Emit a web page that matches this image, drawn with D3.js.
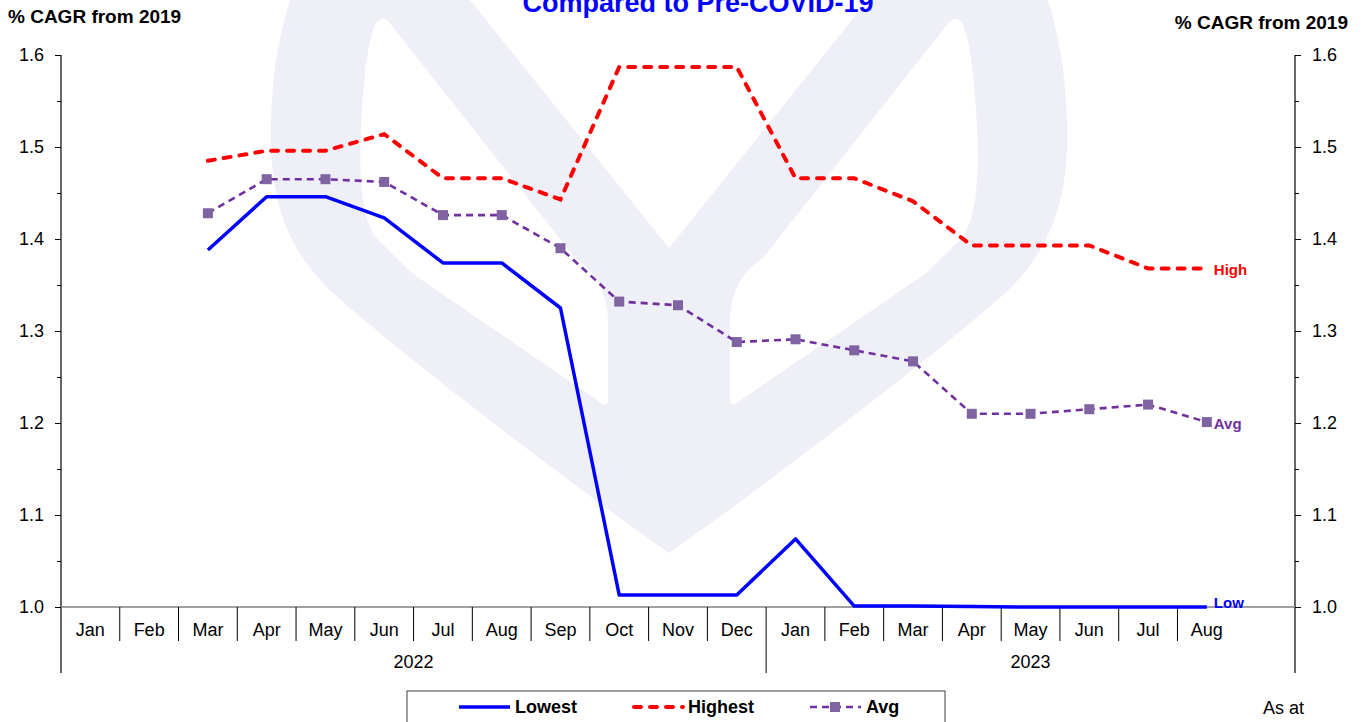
<!DOCTYPE html>
<html>
<head>
<meta charset="utf-8">
<script src="https://cdn.jsdelivr.net/npm/d3@7"></script>
<style>
body { margin: 0; background: #fff; }
svg { display: block; font-family: "Liberation Sans", Arial, sans-serif; }
</style>
</head>
<body>
<div id="chart"></div>
<script>
// data
const months = ["Jan", "Feb", "Mar", "Apr", "May", "Jun", "Jul", "Aug", "Sep", "Oct", "Nov", "Dec",
	"Jan", "Feb", "Mar", "Apr", "May", "Jun", "Jul", "Aug"];
const years = [{ label: "2022", span: 12 }, { label: "2023", span: 9 }];
const lowest = [null, null, 1.388, 1.446, 1.446, 1.423, 1.374, 1.374, 1.325, 1.013, 1.013, 1.013,
	1.074, 1.001, 1.001, 1.0005, 1.0, 1.0, 1.0, 1.0];
const highest = [null, null, 1.485, 1.496, 1.496, 1.514, 1.466, 1.466, 1.443, 1.587, 1.587, 1.587,
	1.466, 1.466, 1.441, 1.393, 1.393, 1.393, 1.368, 1.368];
const avg = [null, null, 1.428, 1.465, 1.465, 1.462, 1.426, 1.426, 1.390, 1.332, 1.328, 1.288,
	1.291, 1.279, 1.267, 1.210, 1.210, 1.215, 1.220, 1.201];
const yTicks = [1.0, 1.1, 1.2, 1.3, 1.4, 1.5, 1.6];
const yMinorTicks = [1.05, 1.15, 1.25, 1.35, 1.45, 1.55];

const width = 1368;
const height = 722;
const plotLeft = 61;
const plotRight = 1295;
const plotTop = 55;
const plotBottom = 607;
const axisBottom = 673;

const svg = d3.select("#chart").append("svg").attr("width", width).attr("height", height);

// watermark (left half, mirrored for the right)
const wm = svg.append("g");
[null, "translate(1338,0) scale(-1,1)"].forEach((t) => {
	const g = wm.append("g").attr("transform", t);
	g.append("path")
		.attr("d", "M669,553 C600,505 420,370 335,295 C288,252 268,200 271,120 C273,60 283,20 292,-5 L669,-5 Z")
		.attr("fill", "#efeff8");
	g.append("path")
		.attr("d", "M381,19 C372,22 366,50 362,110 C358,170 360,220 378,240 L413,274 L600,402 C605,407 609,405 608,395 L608,318 C606,290 596,272 575,258 L392,26 C388,20 384,18 381,19 Z")
		.attr("fill", "#fff");
	g.append("path").attr("d", "M466,-5 L669,-5 L669,248 Z").attr("fill", "#fff");
});

const x = d3.scaleBand().domain(d3.range(months.length + 1)).range([plotLeft, plotRight]);
const xc = (i) => x(i) + x.bandwidth() / 2;
const y = d3.scaleLinear().domain([1.0, 1.6]).range([plotBottom, plotTop]);

// title (cut off at top)
svg.append("text")
	.attr("x", 698).attr("y", 12)
	.attr("text-anchor", "middle")
	.attr("font-size", 27).attr("font-weight", "bold")
	.attr("fill", "#0000ff")
	.text("Compared to Pre-COVID-19");

svg.append("text")
	.attr("x", 8).attr("y", 23)
	.attr("font-size", 19).attr("font-weight", "bold")
	.text("% CAGR from 2019");
svg.append("text")
	.attr("x", 1348).attr("y", 29)
	.attr("text-anchor", "end")
	.attr("font-size", 19).attr("font-weight", "bold")
	.text("% CAGR from 2019");

// y axes
function styleAxis(g) {
	g.select(".domain").remove();
	g.selectAll("line").attr("stroke", "#000");
	g.selectAll("text").attr("font-size", 18).attr("fill", "#000").attr("font-family", "Liberation Sans, Arial, sans-serif");
}
svg.append("g").attr("transform", `translate(${plotLeft},0)`)
	.call(d3.axisLeft(y).tickValues(yTicks).tickFormat(d3.format(".1f")).tickSize(6).tickPadding(11))
	.call(styleAxis);
svg.append("g").attr("transform", `translate(${plotLeft},0)`)
	.call(d3.axisLeft(y).tickValues(yMinorTicks).tickFormat("").tickSize(4))
	.call(styleAxis);
svg.append("g").attr("transform", `translate(${plotRight},0)`)
	.call(d3.axisRight(y).tickValues(yTicks).tickFormat(d3.format(".1f")).tickSize(6).tickPadding(11))
	.call(styleAxis);
svg.append("g").attr("transform", `translate(${plotRight},0)`)
	.call(d3.axisRight(y).tickValues(yMinorTicks).tickFormat("").tickSize(4))
	.call(styleAxis);

[plotLeft, plotRight].forEach((px) => {
	svg.append("line")
		.attr("x1", px).attr("x2", px)
		.attr("y1", plotTop).attr("y2", axisBottom)
		.attr("stroke", "#000").attr("stroke-width", 1.2);
});

// category axis
svg.append("line")
	.attr("x1", plotLeft).attr("x2", plotRight)
	.attr("y1", y(1.0)).attr("y2", y(1.0))
	.attr("stroke", "#808080").attr("stroke-width", 1.5);

const sepIdx = d3.range(1, months.length);
svg.append("g").selectAll("line")
	.data(sepIdx)
	.enter()
	.append("line")
	.attr("x1", (d) => x(d)).attr("x2", (d) => x(d))
	.attr("y1", y(1.0))
	.attr("y2", (d) => (d === years[0].span ? axisBottom : 641))
	.attr("stroke", "#000").attr("stroke-width", 1);

svg.append("g").selectAll("text")
	.data(months)
	.enter()
	.append("text")
	.attr("x", (_d, i) => xc(i))
	.attr("y", 636)
	.attr("text-anchor", "middle")
	.attr("font-size", 18)
	.text((d) => d);

let start = 0;
years.forEach((yr) => {
	const x0 = x(start);
	const x1 = start + yr.span < months.length + 1 ? x(start + yr.span) : plotRight;
	svg.append("text")
		.attr("x", (x0 + x1) / 2).attr("y", 668)
		.attr("text-anchor", "middle")
		.attr("font-size", 18)
		.text(yr.label);
	start += yr.span;
});

// series
const line = d3.line()
	.defined((d) => d !== null)
	.x((_d, i) => xc(i))
	.y((d) => y(d));

svg.append("path").datum(lowest)
	.attr("d", line).attr("fill", "none")
	.attr("stroke", "#0000ff").attr("stroke-width", 3.5).attr("stroke-linejoin", "round");
svg.append("path").datum(highest)
	.attr("d", line).attr("fill", "none")
	.attr("stroke", "#ff0000").attr("stroke-width", 4)
	.attr("stroke-dasharray", "7,9").attr("stroke-linecap", "round");
svg.append("path").datum(avg)
	.attr("d", line).attr("fill", "none")
	.attr("stroke", "#7030a0").attr("stroke-width", 2.6)
	.attr("stroke-dasharray", "7,5");
svg.append("g").selectAll("rect")
	.data(avg.map((v, i) => ({ v, i })).filter((d) => d.v !== null))
	.enter()
	.append("rect")
	.attr("x", (d) => xc(d.i) - 5).attr("y", (d) => y(d.v) - 5)
	.attr("width", 10).attr("height", 10)
	.attr("fill", "#8064a2");

// end labels
const last = months.length - 1;
const endLabels = [
	{ text: "High", v: highest[last], color: "#ff0000", dy: 7 },
	{ text: "Avg", v: avg[last], color: "#7030a0", dy: 7 },
	{ text: "Low", v: lowest[last], color: "#0000ff", dy: 1 }
];
svg.append("g").selectAll("text")
	.data(endLabels)
	.enter()
	.append("text")
	.attr("x", xc(last) + 7)
	.attr("y", (d) => y(d.v) + d.dy)
	.attr("font-size", 15).attr("font-weight", "bold")
	.attr("fill", (d) => d.color)
	.text((d) => d.text);

// legend
const legend = svg.append("g");
legend.append("rect")
	.attr("x", 407).attr("y", 691).attr("width", 538).attr("height", 45)
	.attr("fill", "#fff").attr("stroke", "#404040").attr("stroke-width", 1);
const legendItems = [
	{ name: "Lowest", x: 459, color: "#0000ff", width: 3.5, dash: null, marker: false },
	{ name: "Highest", x: 632, color: "#ff0000", width: 4, dash: "7,9", marker: false },
	{ name: "Avg", x: 810, color: "#7030a0", width: 2.6, dash: "7,5", marker: true }
];
legendItems.forEach((d) => {
	legend.append("line")
		.attr("x1", d.x + (d.dash === "7,9" ? 2 : 0)).attr("x2", d.x + 51)
		.attr("y1", 707).attr("y2", 707)
		.attr("stroke", d.color).attr("stroke-width", d.width)
		.attr("stroke-dasharray", d.dash)
		.attr("stroke-linecap", d.dash === "7,9" ? "round" : "butt");
	if (d.marker) {
		legend.append("rect")
			.attr("x", d.x + 20).attr("y", 702).attr("width", 10).attr("height", 10)
			.attr("fill", "#8064a2");
	}
	legend.append("text")
		.attr("x", d.x + 56).attr("y", 713)
		.attr("font-size", 18).attr("font-weight", "bold")
		.text(d.name);
});

svg.append("text")
	.attr("x", 1263).attr("y", 714)
	.attr("font-size", 18)
	.text("As at");
</script>
</body>
</html>
